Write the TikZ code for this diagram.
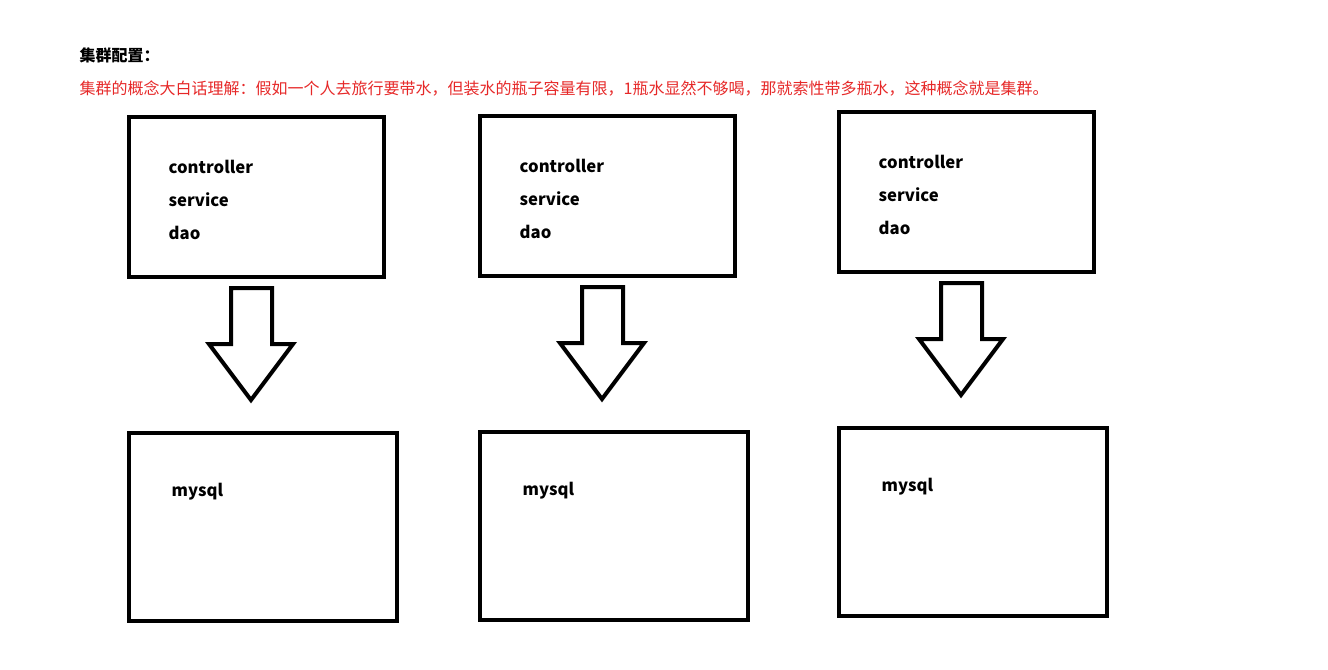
\documentclass[tikz,border=0pt]{standalone}
\usepackage{fontspec}
\setmainfont{Noto Sans CJK SC}
\usetikzlibrary{positioning}
\definecolor{notered}{RGB}{230,40,40}
\begin{document}
\begin{tikzpicture}[x=0.75pt, y=-0.75pt,
                    box/.style={
			draw,
			line width=3pt,
			anchor=north west,
			inner sep=0pt,
		},
                    lbl/.style={
			font=\fontsize{12.5}{20}\selectfont\bfseries,
			anchor=west,
		},
                    blockarrow/.style={
			draw,
			line width=3pt,
			line join=miter,
		} ]

\useasboundingbox (0,0) rectangle (1328,669);

\node[anchor=west, font=\fontsize{12}{14}\selectfont\bfseries] (title) at (75,55) {集群配置：};
\node[anchor=west, text=notered, font=\fontsize{12}{14}\selectfont] (note) at (75,88) {集群的概念大白话理解：假如一个人去旅行要带水，但装水的瓶子容量有限，1瓶水显然不够喝，那就索性带多瓶水，这种概念就是集群。};

% application boxes
\draw[box] (129,117) rectangle (384,277) coordinate (app1);
\draw[box] (480,116) rectangle (735,276) coordinate (app2);
\draw[box] (839,112) rectangle (1094,272) coordinate (app3);

% database boxes
\draw[box] (129,433) rectangle (397,621) coordinate (db1);
\draw[box] (480,432) rectangle (748,620) coordinate (db2);
\draw[box] (839,428) rectangle (1107,616) coordinate (db3);

\foreach \x/\y [count=\i] in {164/167, 515/166, 874/162}{
  \node[lbl] (ctl\i) at (\x,\y) {controller};
  \node[lbl] (svc\i) at (\x,\y+33) {service};
  \node[lbl] (dao\i) at (\x,\y+66) {dao};
}
\node[lbl] (sql1) at (167,492) {mysql};
\node[lbl] (sql2) at (518,491) {mysql};
\node[lbl] (sql3) at (877,487) {mysql};

% block arrows
\foreach \x/\y in {251/288, 602/287, 961/283}{
  \draw[blockarrow] (\x-20,\y) -- (\x+21,\y) -- (\x+21,\y+56) -- (\x+42,\y+56)
    -- (\x,\y+112) -- (\x-42,\y+56) -- (\x-20,\y+56) -- cycle;
}

\end{tikzpicture}
\end{document}
